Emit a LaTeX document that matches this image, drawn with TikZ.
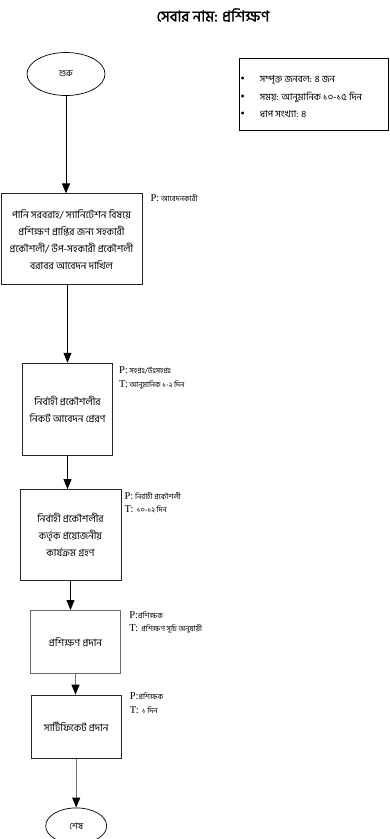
\documentclass[tikz,border=0pt]{standalone}
\usepackage{fontspec}
\newfontfamily\bn[Script=Bengali]{Hind Siliguri}
\newfontfamily\bntitle[Script=Bengali,FakeBold=1.5]{Hind Siliguri}
\newfontfamily\lat{Liberation Serif}
\usetikzlibrary{shapes.geometric, arrows.meta, positioning}

\begin{document}
\begin{tikzpicture}[
  x=1pt, y=-1pt,
  every node/.style={font=\bn\fontsize{10}{17}\selectfont},
  term/.style={ellipse, draw=black, line width=0.7pt, inner sep=0pt, font=\bn\small},
  stepbox/.style={rectangle, draw=black!85, line width=0.9pt, align=center, inner sep=2pt},
  arr/.style={-{Triangle[length=10pt,width=8pt]}, line width=0.9pt},
  grayarr/.style={-{Triangle[length=10pt,width=8pt,black]}, line width=1.1pt, draw=black!55},
  note/.style={anchor=north west, align=left, inner sep=0pt, font=\bn\fontsize{7.5}{13.5}\selectfont}
]
\newcommand{\tag}[1]{{\lat\fontsize{10.5}{13.5}\selectfont #1}}
\useasboundingbox (0,0) rectangle (389,839);

% ---- TITLE ----
\node[font=\bntitle\fontsize{15}{17}\selectfont] (title) at (213,15) {সেবার নাম: প্রশিক্ষণ};

% ---- SUMMARY ----
\node[rectangle, draw=black, line width=0.8pt, minimum width=149pt, minimum height=72pt,
  anchor=north west, inner sep=0pt] (info) at (238.5,57.5) {};
\node[anchor=west, align=left, inner sep=0pt, font=\bn\fontsize{9.5}{17.5}\selectfont]
  (infotext) at ([xshift=2pt,yshift=-3pt]info.west)
  {{\lat\large\textbullet}\hspace{15pt}সম্পৃক্ত জনবল: ৪ জন\\
   {\lat\large\textbullet}\hspace{15pt}সময়: আনুমানিক ১০-১৫ দিন\\
   {\lat\large\textbullet}\hspace{15pt}ধাপ সংখ্যা: ৪};

% ---- FLOW ----
\node[term, minimum width=78pt, minimum height=43pt] (start) at (66,74) {শুরু};
\node[stepbox, minimum width=141pt, minimum height=91pt, below=97.5pt of start, xshift=5.5pt] (apply)
  {পানি সরবরাহ/ স্যানিটেশন বিষয়ে\\প্রশিক্ষণ প্রাপ্তির জন্য সহকারী\\প্রকৌশলী/ উপ-সহকারী প্রকৌশলী\\বরাবর আবেদন দাখিল};
\node[stepbox, minimum width=90pt, minimum height=92pt, below=77.5pt of apply, xshift=-4pt] (forward)
  {নির্বাহী প্রকৌশলীর\\নিকট আবেদন প্রেরণ};
\node[stepbox, minimum width=101pt, minimum height=91pt, below=33.5pt of forward, xshift=3pt] (action)
  {নির্বাহী প্রকৌশলীর\\কর্তৃক প্রয়োজনীয়\\কার্যক্রম গ্রহণ};
\node[stepbox, draw=black!60, line width=1.1pt, minimum width=90pt, minimum height=63pt,
  below=29pt of action, xshift=5pt] (train) {প্রশিক্ষণ প্রদান};
\node[stepbox, minimum width=90pt, minimum height=63pt, below=20.5pt of train, xshift=0.7pt] (cert)
  {সার্টিফিকেট প্রদান};
\node[term, minimum width=61pt, minimum height=36pt, below=49pt of cert] (finish) {শেষ};

\draw[arr] (start) -- (start |- apply.north);
\draw[arr] (forward |- apply.south) -- (forward.north);
\draw[arr] (forward) -- (forward |- action.north);
\draw[arr] (action) -- (action |- train.north);
\draw[grayarr] (train) -- (train |- cert.north);
\draw[grayarr] (cert) -- (finish);

% ---- NOTES ----
\node[note] (n1) at ([xshift=8pt,yshift=-1pt]apply.north east)
  {\tag{P:} আবেদনকারী};
\node[note] (n2) at ([xshift=6pt,yshift=-4pt]forward.north east)
  {\tag{P:} সহপ্রঃ/উঃসহপ্রঃ\\\tag{T:} আনুমানিক ১-২ দিন};
\node[note] (n3) at ([xshift=3pt,yshift=-3pt]action.north east)
  {\tag{P:} নির্বাহী প্রকৌশলী\\\tag{T:}\ \ ১০-১২ দিন};
\node[note] (n4) at ([xshift=8pt,yshift=-1pt]train.north east)
  {\tag{P:}প্রশিক্ষক\\\tag{T:}\ \ প্রশিক্ষণ সূচি অনুযায়ী};
\node[note] (n5) at ([xshift=8pt,yshift=2pt]cert.north east)
  {\tag{P:}প্রশিক্ষক\\\tag{T:}\ \ ১ দিন};
\end{tikzpicture}
\end{document}
